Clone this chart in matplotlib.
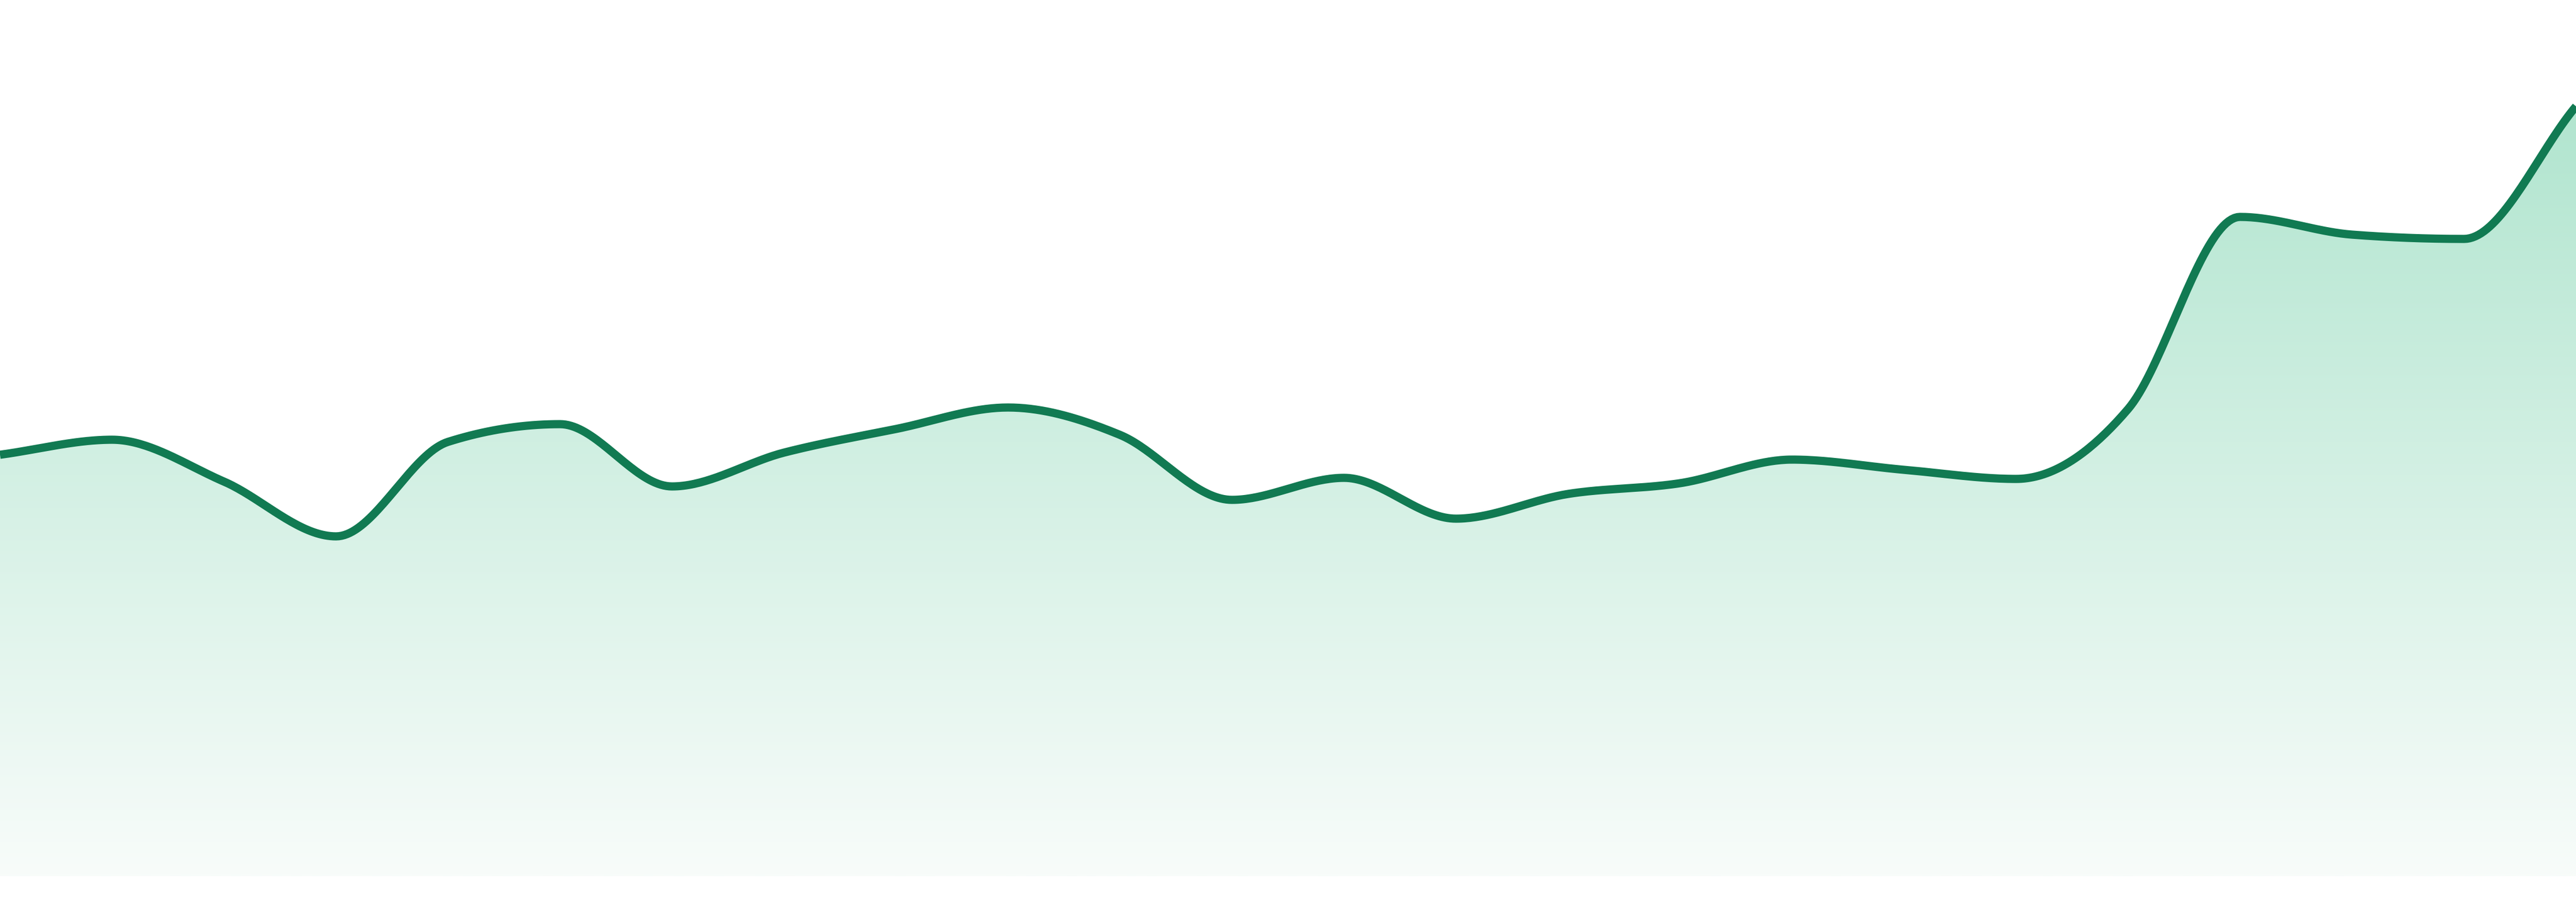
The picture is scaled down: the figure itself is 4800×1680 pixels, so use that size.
import matplotlib
matplotlib.use("Agg")
import matplotlib.pyplot as plt
import numpy as np

# values (24 evenly spaced points)
points = list(range(24))
values = [78.5, 81.3, 73.5, 63.3, 80.9, 84.2, 72.6, 78.9, 83.3, 87.3, 82.2, 70.1,
          74.2, 66.6, 71.2, 73.2, 77.6, 75.7, 74.0, 87.0, 122.8, 119.5, 118.7, 143.4]

line_color = "#117a52"
fill_top = np.array([177, 229, 207]) / 255
fill_bottom = np.array([248, 252, 250]) / 255


def monotone_x(x, y, n=40):
    # monotone cubic (Steffen slopes inside, plain secant at both ends)
    x = np.asarray(x, float)
    y = np.asarray(y, float)
    h = np.diff(x)
    s = np.diff(y) / h
    t = np.zeros_like(y)
    for i in range(1, len(x) - 1):
        p = (s[i - 1] * h[i] + s[i] * h[i - 1]) / (h[i - 1] + h[i])
        t[i] = (np.sign(s[i - 1]) + np.sign(s[i])) * min(abs(s[i - 1]), abs(s[i]), 0.5 * abs(p))
    t[0] = s[0]
    t[-1] = s[-1]
    xs, ys = [], []
    for i in range(len(x) - 1):
        u = np.linspace(0, 1, n, endpoint=(i == len(x) - 2))
        h00 = 2 * u**3 - 3 * u**2 + 1
        h10 = u**3 - 2 * u**2 + u
        h01 = -2 * u**3 + 3 * u**2
        h11 = u**3 - u**2
        xs.append(x[i] + u * h[i])
        ys.append(h00 * y[i] + h10 * h[i] * t[i] + h01 * y[i + 1] + h11 * h[i] * t[i + 1])
    return np.concatenate(xs), np.concatenate(ys)


fig = plt.figure(figsize=(48, 16.8), dpi=100)
ax = fig.add_axes([0, 0, 1, 1])
ax.set_xlim(0, 23)
ax.set_ylim(-4.8, 163.2)
ax.axis("off")

xs, ys = monotone_x(points, values)

# gradient fill under the curve
area = ax.fill_between(xs, 0, ys, color="none", linewidth=0)
top = max(values)
grad_y = np.linspace(0, 1, 256)[:, None]
colors = fill_bottom + (fill_top - fill_bottom) * grad_y[:, :, None]
img = ax.imshow(colors, extent=[0, 23, 0, top], origin="lower", aspect="auto",
                interpolation="bilinear", zorder=1)
path = area.get_paths()[0]
img.set_clip_path(path, transform=ax.transData)

ax.plot(xs, ys, color=line_color, linewidth=11, solid_capstyle="butt", zorder=2)

fig.savefig("out.png", dpi=100)
